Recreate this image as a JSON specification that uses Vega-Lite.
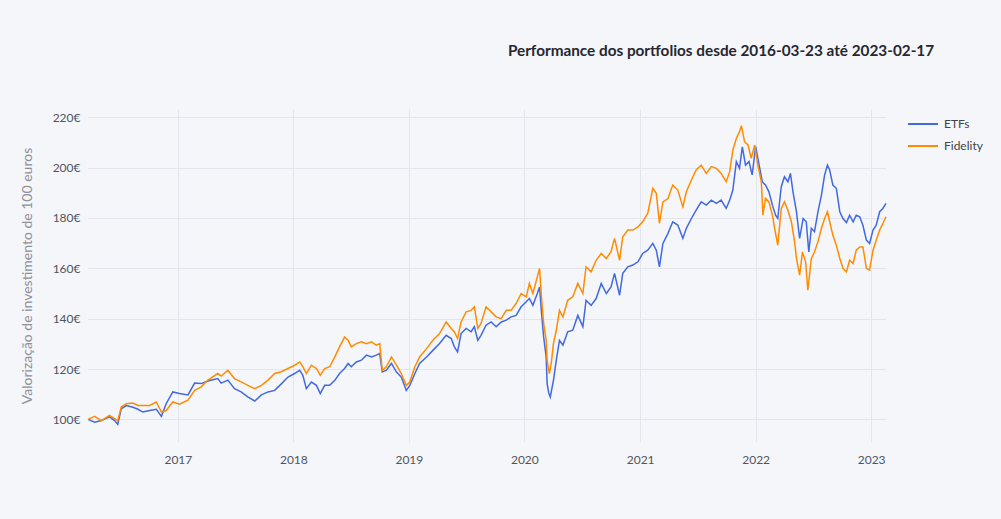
{
  "$schema": "https://vega.github.io/schema/vega-lite/v6.json",
  "width": 798,
  "height": 333,
  "autosize": "none",
  "padding": {"left": 88, "top": 109, "right": 115, "bottom": 77},
  "background": "#f5f6fa",
  "config": {
    "font": "Lato",
    "view": {"stroke": null, "fill": "#f5f6fa"}
  },
  "title": {
    "text": "Performance dos portfolios desde 2016-03-23 até 2023-02-17",
    "anchor": "middle",
    "dx": 234,
    "offset": 49,
    "fontSize": 15.3,
    "fontWeight": "bold",
    "color": "#262730",
    "font": "Lato"
  },
  "data": {
    "values": [
      {"date": "2016-03-23", "portfolio": "ETFs", "value": 100},
      {"date": "2016-04-13", "portfolio": "ETFs", "value": 98.9},
      {"date": "2016-05-04", "portfolio": "ETFs", "value": 99.5},
      {"date": "2016-05-30", "portfolio": "ETFs", "value": 101},
      {"date": "2016-06-15", "portfolio": "ETFs", "value": 99.5},
      {"date": "2016-06-25", "portfolio": "ETFs", "value": 98},
      {"date": "2016-07-06", "portfolio": "ETFs", "value": 104.2},
      {"date": "2016-07-22", "portfolio": "ETFs", "value": 105.5},
      {"date": "2016-08-12", "portfolio": "ETFs", "value": 104.8},
      {"date": "2016-08-28", "portfolio": "ETFs", "value": 104},
      {"date": "2016-09-12", "portfolio": "ETFs", "value": 102.9},
      {"date": "2016-10-04", "portfolio": "ETFs", "value": 103.5},
      {"date": "2016-10-25", "portfolio": "ETFs", "value": 104},
      {"date": "2016-11-10", "portfolio": "ETFs", "value": 101.2},
      {"date": "2016-11-25", "portfolio": "ETFs", "value": 106.2},
      {"date": "2016-12-16", "portfolio": "ETFs", "value": 110.9},
      {"date": "2017-01-06", "portfolio": "ETFs", "value": 110.3},
      {"date": "2017-02-02", "portfolio": "ETFs", "value": 109.7},
      {"date": "2017-02-23", "portfolio": "ETFs", "value": 114.4},
      {"date": "2017-03-16", "portfolio": "ETFs", "value": 114.2},
      {"date": "2017-04-06", "portfolio": "ETFs", "value": 115.2},
      {"date": "2017-05-07", "portfolio": "ETFs", "value": 116.2},
      {"date": "2017-05-18", "portfolio": "ETFs", "value": 114.4},
      {"date": "2017-06-08", "portfolio": "ETFs", "value": 115.6},
      {"date": "2017-06-29", "portfolio": "ETFs", "value": 112.2},
      {"date": "2017-07-20", "portfolio": "ETFs", "value": 110.9},
      {"date": "2017-08-10", "portfolio": "ETFs", "value": 108.9},
      {"date": "2017-09-01", "portfolio": "ETFs", "value": 107.3},
      {"date": "2017-09-22", "portfolio": "ETFs", "value": 109.7},
      {"date": "2017-10-13", "portfolio": "ETFs", "value": 110.9},
      {"date": "2017-11-03", "portfolio": "ETFs", "value": 111.5},
      {"date": "2017-11-24", "portfolio": "ETFs", "value": 114.1},
      {"date": "2017-12-15", "portfolio": "ETFs", "value": 116.8},
      {"date": "2018-01-05", "portfolio": "ETFs", "value": 118.2},
      {"date": "2018-01-21", "portfolio": "ETFs", "value": 119.5},
      {"date": "2018-01-31", "portfolio": "ETFs", "value": 117.5},
      {"date": "2018-02-11", "portfolio": "ETFs", "value": 112.2},
      {"date": "2018-02-27", "portfolio": "ETFs", "value": 114.8},
      {"date": "2018-03-15", "portfolio": "ETFs", "value": 113.5},
      {"date": "2018-03-27", "portfolio": "ETFs", "value": 110.2},
      {"date": "2018-04-10", "portfolio": "ETFs", "value": 113.5},
      {"date": "2018-04-26", "portfolio": "ETFs", "value": 113.5},
      {"date": "2018-05-12", "portfolio": "ETFs", "value": 115.5},
      {"date": "2018-05-27", "portfolio": "ETFs", "value": 118.2},
      {"date": "2018-06-12", "portfolio": "ETFs", "value": 120.2},
      {"date": "2018-06-23", "portfolio": "ETFs", "value": 122.2},
      {"date": "2018-07-03", "portfolio": "ETFs", "value": 120.9},
      {"date": "2018-07-19", "portfolio": "ETFs", "value": 122.8},
      {"date": "2018-08-04", "portfolio": "ETFs", "value": 123.5},
      {"date": "2018-08-20", "portfolio": "ETFs", "value": 125.5},
      {"date": "2018-09-05", "portfolio": "ETFs", "value": 124.8},
      {"date": "2018-09-20", "portfolio": "ETFs", "value": 125.5},
      {"date": "2018-10-01", "portfolio": "ETFs", "value": 126.1},
      {"date": "2018-10-09", "portfolio": "ETFs", "value": 118.8},
      {"date": "2018-10-22", "portfolio": "ETFs", "value": 119.5},
      {"date": "2018-11-07", "portfolio": "ETFs", "value": 122.2},
      {"date": "2018-11-23", "portfolio": "ETFs", "value": 118.8},
      {"date": "2018-12-08", "portfolio": "ETFs", "value": 116.8},
      {"date": "2018-12-24", "portfolio": "ETFs", "value": 111.5},
      {"date": "2019-01-04", "portfolio": "ETFs", "value": 113.5},
      {"date": "2019-01-20", "portfolio": "ETFs", "value": 118.2},
      {"date": "2019-02-04", "portfolio": "ETFs", "value": 122.2},
      {"date": "2019-02-26", "portfolio": "ETFs", "value": 124.8},
      {"date": "2019-03-18", "portfolio": "ETFs", "value": 127.4},
      {"date": "2019-04-08", "portfolio": "ETFs", "value": 130.1},
      {"date": "2019-04-29", "portfolio": "ETFs", "value": 133.4},
      {"date": "2019-05-15", "portfolio": "ETFs", "value": 132.1},
      {"date": "2019-05-25", "portfolio": "ETFs", "value": 128.8},
      {"date": "2019-06-04", "portfolio": "ETFs", "value": 126.8},
      {"date": "2019-06-15", "portfolio": "ETFs", "value": 134.1},
      {"date": "2019-07-01", "portfolio": "ETFs", "value": 136.1},
      {"date": "2019-07-17", "portfolio": "ETFs", "value": 134.8},
      {"date": "2019-07-27", "portfolio": "ETFs", "value": 136.8},
      {"date": "2019-08-07", "portfolio": "ETFs", "value": 131.4},
      {"date": "2019-08-17", "portfolio": "ETFs", "value": 133.4},
      {"date": "2019-09-02", "portfolio": "ETFs", "value": 137.4},
      {"date": "2019-09-18", "portfolio": "ETFs", "value": 138.7},
      {"date": "2019-10-04", "portfolio": "ETFs", "value": 136.8},
      {"date": "2019-10-20", "portfolio": "ETFs", "value": 138.7},
      {"date": "2019-11-05", "portfolio": "ETFs", "value": 139.4},
      {"date": "2019-11-20", "portfolio": "ETFs", "value": 140.7},
      {"date": "2019-12-06", "portfolio": "ETFs", "value": 141.3},
      {"date": "2019-12-22", "portfolio": "ETFs", "value": 144.7},
      {"date": "2020-01-07", "portfolio": "ETFs", "value": 146.7},
      {"date": "2020-01-17", "portfolio": "ETFs", "value": 148},
      {"date": "2020-01-28", "portfolio": "ETFs", "value": 145.3},
      {"date": "2020-02-11", "portfolio": "ETFs", "value": 150},
      {"date": "2020-02-18", "portfolio": "ETFs", "value": 152.6},
      {"date": "2020-02-25", "portfolio": "ETFs", "value": 141.3},
      {"date": "2020-03-02", "portfolio": "ETFs", "value": 132.7},
      {"date": "2020-03-10", "portfolio": "ETFs", "value": 124.8},
      {"date": "2020-03-13", "portfolio": "ETFs", "value": 114.2},
      {"date": "2020-03-18", "portfolio": "ETFs", "value": 110.5},
      {"date": "2020-03-23", "portfolio": "ETFs", "value": 108.9},
      {"date": "2020-04-02", "portfolio": "ETFs", "value": 115.5},
      {"date": "2020-04-11", "portfolio": "ETFs", "value": 123.5},
      {"date": "2020-04-21", "portfolio": "ETFs", "value": 131.4},
      {"date": "2020-05-02", "portfolio": "ETFs", "value": 129.5},
      {"date": "2020-05-17", "portfolio": "ETFs", "value": 134.8},
      {"date": "2020-06-02", "portfolio": "ETFs", "value": 135.4},
      {"date": "2020-06-18", "portfolio": "ETFs", "value": 141.3},
      {"date": "2020-07-04", "portfolio": "ETFs", "value": 136.8},
      {"date": "2020-07-14", "portfolio": "ETFs", "value": 147.3},
      {"date": "2020-07-30", "portfolio": "ETFs", "value": 145.3},
      {"date": "2020-08-15", "portfolio": "ETFs", "value": 148},
      {"date": "2020-08-31", "portfolio": "ETFs", "value": 154},
      {"date": "2020-09-16", "portfolio": "ETFs", "value": 150},
      {"date": "2020-10-01", "portfolio": "ETFs", "value": 152.6},
      {"date": "2020-10-12", "portfolio": "ETFs", "value": 158},
      {"date": "2020-10-28", "portfolio": "ETFs", "value": 149.3},
      {"date": "2020-11-07", "portfolio": "ETFs", "value": 158},
      {"date": "2020-11-23", "portfolio": "ETFs", "value": 160.6},
      {"date": "2020-12-09", "portfolio": "ETFs", "value": 161.3},
      {"date": "2020-12-25", "portfolio": "ETFs", "value": 162.6},
      {"date": "2021-01-09", "portfolio": "ETFs", "value": 165.9},
      {"date": "2021-01-25", "portfolio": "ETFs", "value": 167.2},
      {"date": "2021-02-10", "portfolio": "ETFs", "value": 169.9},
      {"date": "2021-02-21", "portfolio": "ETFs", "value": 167.2},
      {"date": "2021-03-03", "portfolio": "ETFs", "value": 160.6},
      {"date": "2021-03-14", "portfolio": "ETFs", "value": 169.9},
      {"date": "2021-03-30", "portfolio": "ETFs", "value": 173.9},
      {"date": "2021-04-14", "portfolio": "ETFs", "value": 178.5},
      {"date": "2021-04-30", "portfolio": "ETFs", "value": 177.2},
      {"date": "2021-05-16", "portfolio": "ETFs", "value": 171.9},
      {"date": "2021-05-27", "portfolio": "ETFs", "value": 175.9},
      {"date": "2021-06-12", "portfolio": "ETFs", "value": 179.8},
      {"date": "2021-06-27", "portfolio": "ETFs", "value": 183.1},
      {"date": "2021-07-13", "portfolio": "ETFs", "value": 186.4},
      {"date": "2021-07-29", "portfolio": "ETFs", "value": 185.1},
      {"date": "2021-08-14", "portfolio": "ETFs", "value": 187.1},
      {"date": "2021-08-30", "portfolio": "ETFs", "value": 185.8},
      {"date": "2021-09-14", "portfolio": "ETFs", "value": 187.1},
      {"date": "2021-09-30", "portfolio": "ETFs", "value": 183.8},
      {"date": "2021-10-11", "portfolio": "ETFs", "value": 187.1},
      {"date": "2021-10-21", "portfolio": "ETFs", "value": 191.1},
      {"date": "2021-11-01", "portfolio": "ETFs", "value": 202.4},
      {"date": "2021-11-11", "portfolio": "ETFs", "value": 199.7},
      {"date": "2021-11-20", "portfolio": "ETFs", "value": 208.3},
      {"date": "2021-11-30", "portfolio": "ETFs", "value": 201},
      {"date": "2021-12-11", "portfolio": "ETFs", "value": 202.4},
      {"date": "2021-12-21", "portfolio": "ETFs", "value": 197.1},
      {"date": "2022-01-01", "portfolio": "ETFs", "value": 208.3},
      {"date": "2022-01-11", "portfolio": "ETFs", "value": 201.7},
      {"date": "2022-01-22", "portfolio": "ETFs", "value": 194.4},
      {"date": "2022-02-01", "portfolio": "ETFs", "value": 193.1},
      {"date": "2022-02-12", "portfolio": "ETFs", "value": 190.4},
      {"date": "2022-02-23", "portfolio": "ETFs", "value": 185.1},
      {"date": "2022-03-05", "portfolio": "ETFs", "value": 181.1},
      {"date": "2022-03-12", "portfolio": "ETFs", "value": 179.8},
      {"date": "2022-03-23", "portfolio": "ETFs", "value": 192.4},
      {"date": "2022-04-02", "portfolio": "ETFs", "value": 196.4},
      {"date": "2022-04-13", "portfolio": "ETFs", "value": 194.4},
      {"date": "2022-04-21", "portfolio": "ETFs", "value": 197.7},
      {"date": "2022-04-29", "portfolio": "ETFs", "value": 190.4},
      {"date": "2022-05-10", "portfolio": "ETFs", "value": 182.5},
      {"date": "2022-05-20", "portfolio": "ETFs", "value": 171.9},
      {"date": "2022-05-31", "portfolio": "ETFs", "value": 179.8},
      {"date": "2022-06-10", "portfolio": "ETFs", "value": 178.5},
      {"date": "2022-06-18", "portfolio": "ETFs", "value": 166.5},
      {"date": "2022-06-26", "portfolio": "ETFs", "value": 175.9},
      {"date": "2022-07-06", "portfolio": "ETFs", "value": 174.6},
      {"date": "2022-07-17", "portfolio": "ETFs", "value": 182.5},
      {"date": "2022-07-28", "portfolio": "ETFs", "value": 189.1},
      {"date": "2022-08-07", "portfolio": "ETFs", "value": 197.1},
      {"date": "2022-08-16", "portfolio": "ETFs", "value": 201},
      {"date": "2022-08-23", "portfolio": "ETFs", "value": 199.1},
      {"date": "2022-09-02", "portfolio": "ETFs", "value": 193.1},
      {"date": "2022-09-13", "portfolio": "ETFs", "value": 191.8},
      {"date": "2022-09-24", "portfolio": "ETFs", "value": 182.5},
      {"date": "2022-10-04", "portfolio": "ETFs", "value": 179.8},
      {"date": "2022-10-15", "portfolio": "ETFs", "value": 178.2},
      {"date": "2022-10-25", "portfolio": "ETFs", "value": 181.1},
      {"date": "2022-11-05", "portfolio": "ETFs", "value": 178.5},
      {"date": "2022-11-15", "portfolio": "ETFs", "value": 181.1},
      {"date": "2022-11-26", "portfolio": "ETFs", "value": 180.5},
      {"date": "2022-12-06", "portfolio": "ETFs", "value": 177.1},
      {"date": "2022-12-17", "portfolio": "ETFs", "value": 171.2},
      {"date": "2022-12-27", "portfolio": "ETFs", "value": 169.9},
      {"date": "2023-01-07", "portfolio": "ETFs", "value": 175.2},
      {"date": "2023-01-17", "portfolio": "ETFs", "value": 177.1},
      {"date": "2023-01-28", "portfolio": "ETFs", "value": 182.5},
      {"date": "2023-02-07", "portfolio": "ETFs", "value": 183.8},
      {"date": "2023-02-17", "portfolio": "ETFs", "value": 185.8},
      {"date": "2016-03-23", "portfolio": "Fidelity", "value": 100},
      {"date": "2016-04-13", "portfolio": "Fidelity", "value": 101.2},
      {"date": "2016-05-04", "portfolio": "Fidelity", "value": 99.5},
      {"date": "2016-05-30", "portfolio": "Fidelity", "value": 101.6},
      {"date": "2016-06-15", "portfolio": "Fidelity", "value": 100.3},
      {"date": "2016-06-25", "portfolio": "Fidelity", "value": 99.5},
      {"date": "2016-07-06", "portfolio": "Fidelity", "value": 104.9},
      {"date": "2016-07-22", "portfolio": "Fidelity", "value": 106.2},
      {"date": "2016-08-12", "portfolio": "Fidelity", "value": 106.5},
      {"date": "2016-08-28", "portfolio": "Fidelity", "value": 105.5},
      {"date": "2016-09-12", "portfolio": "Fidelity", "value": 105.5},
      {"date": "2016-10-04", "portfolio": "Fidelity", "value": 105.5},
      {"date": "2016-10-25", "portfolio": "Fidelity", "value": 106.9},
      {"date": "2016-11-10", "portfolio": "Fidelity", "value": 102.9},
      {"date": "2016-11-25", "portfolio": "Fidelity", "value": 103.5},
      {"date": "2016-12-16", "portfolio": "Fidelity", "value": 106.9},
      {"date": "2017-01-06", "portfolio": "Fidelity", "value": 106},
      {"date": "2017-02-02", "portfolio": "Fidelity", "value": 107.6},
      {"date": "2017-02-23", "portfolio": "Fidelity", "value": 111.5},
      {"date": "2017-03-16", "portfolio": "Fidelity", "value": 112.9},
      {"date": "2017-04-06", "portfolio": "Fidelity", "value": 115.6},
      {"date": "2017-05-07", "portfolio": "Fidelity", "value": 118.2},
      {"date": "2017-05-18", "portfolio": "Fidelity", "value": 117.2},
      {"date": "2017-06-08", "portfolio": "Fidelity", "value": 119.5},
      {"date": "2017-06-29", "portfolio": "Fidelity", "value": 116.2},
      {"date": "2017-07-20", "portfolio": "Fidelity", "value": 114.9},
      {"date": "2017-08-10", "portfolio": "Fidelity", "value": 113.5},
      {"date": "2017-09-01", "portfolio": "Fidelity", "value": 112.2},
      {"date": "2017-09-22", "portfolio": "Fidelity", "value": 113.5},
      {"date": "2017-10-13", "portfolio": "Fidelity", "value": 115.6},
      {"date": "2017-11-03", "portfolio": "Fidelity", "value": 118.2},
      {"date": "2017-11-24", "portfolio": "Fidelity", "value": 118.9},
      {"date": "2017-12-15", "portfolio": "Fidelity", "value": 120.2},
      {"date": "2018-01-05", "portfolio": "Fidelity", "value": 121.5},
      {"date": "2018-01-21", "portfolio": "Fidelity", "value": 122.8},
      {"date": "2018-01-31", "portfolio": "Fidelity", "value": 120.9},
      {"date": "2018-02-11", "portfolio": "Fidelity", "value": 118.2},
      {"date": "2018-02-27", "portfolio": "Fidelity", "value": 121.5},
      {"date": "2018-03-15", "portfolio": "Fidelity", "value": 120.2},
      {"date": "2018-03-27", "portfolio": "Fidelity", "value": 117.5},
      {"date": "2018-04-10", "portfolio": "Fidelity", "value": 120.2},
      {"date": "2018-04-26", "portfolio": "Fidelity", "value": 120.9},
      {"date": "2018-05-12", "portfolio": "Fidelity", "value": 124.8},
      {"date": "2018-05-27", "portfolio": "Fidelity", "value": 128.8},
      {"date": "2018-06-12", "portfolio": "Fidelity", "value": 132.7},
      {"date": "2018-06-23", "portfolio": "Fidelity", "value": 131.4},
      {"date": "2018-07-03", "portfolio": "Fidelity", "value": 128.8},
      {"date": "2018-07-19", "portfolio": "Fidelity", "value": 130.1},
      {"date": "2018-08-04", "portfolio": "Fidelity", "value": 130.8},
      {"date": "2018-08-20", "portfolio": "Fidelity", "value": 130.1},
      {"date": "2018-09-05", "portfolio": "Fidelity", "value": 130.8},
      {"date": "2018-09-20", "portfolio": "Fidelity", "value": 129.5},
      {"date": "2018-10-01", "portfolio": "Fidelity", "value": 130.1},
      {"date": "2018-10-09", "portfolio": "Fidelity", "value": 119.5},
      {"date": "2018-10-22", "portfolio": "Fidelity", "value": 120.9},
      {"date": "2018-11-07", "portfolio": "Fidelity", "value": 124.8},
      {"date": "2018-11-23", "portfolio": "Fidelity", "value": 121.5},
      {"date": "2018-12-08", "portfolio": "Fidelity", "value": 118.2},
      {"date": "2018-12-24", "portfolio": "Fidelity", "value": 113.5},
      {"date": "2019-01-04", "portfolio": "Fidelity", "value": 114.8},
      {"date": "2019-01-20", "portfolio": "Fidelity", "value": 120.9},
      {"date": "2019-02-04", "portfolio": "Fidelity", "value": 124.8},
      {"date": "2019-02-26", "portfolio": "Fidelity", "value": 128.1},
      {"date": "2019-03-18", "portfolio": "Fidelity", "value": 131.4},
      {"date": "2019-04-08", "portfolio": "Fidelity", "value": 134.1},
      {"date": "2019-04-29", "portfolio": "Fidelity", "value": 138.7},
      {"date": "2019-05-15", "portfolio": "Fidelity", "value": 136.1},
      {"date": "2019-05-25", "portfolio": "Fidelity", "value": 134.7},
      {"date": "2019-06-04", "portfolio": "Fidelity", "value": 132.1},
      {"date": "2019-06-15", "portfolio": "Fidelity", "value": 138.7},
      {"date": "2019-07-01", "portfolio": "Fidelity", "value": 142.7},
      {"date": "2019-07-17", "portfolio": "Fidelity", "value": 143.3},
      {"date": "2019-07-27", "portfolio": "Fidelity", "value": 144.7},
      {"date": "2019-08-07", "portfolio": "Fidelity", "value": 136.1},
      {"date": "2019-08-17", "portfolio": "Fidelity", "value": 138.1},
      {"date": "2019-09-02", "portfolio": "Fidelity", "value": 144.7},
      {"date": "2019-09-18", "portfolio": "Fidelity", "value": 142.7},
      {"date": "2019-10-04", "portfolio": "Fidelity", "value": 140.7},
      {"date": "2019-10-20", "portfolio": "Fidelity", "value": 140},
      {"date": "2019-11-05", "portfolio": "Fidelity", "value": 143.3},
      {"date": "2019-11-20", "portfolio": "Fidelity", "value": 143.3},
      {"date": "2019-12-06", "portfolio": "Fidelity", "value": 146},
      {"date": "2019-12-22", "portfolio": "Fidelity", "value": 150},
      {"date": "2020-01-07", "portfolio": "Fidelity", "value": 148.7},
      {"date": "2020-01-17", "portfolio": "Fidelity", "value": 154},
      {"date": "2020-01-28", "portfolio": "Fidelity", "value": 150},
      {"date": "2020-02-11", "portfolio": "Fidelity", "value": 156.6},
      {"date": "2020-02-18", "portfolio": "Fidelity", "value": 160},
      {"date": "2020-02-25", "portfolio": "Fidelity", "value": 147.3},
      {"date": "2020-03-02", "portfolio": "Fidelity", "value": 138.1},
      {"date": "2020-03-10", "portfolio": "Fidelity", "value": 131.4},
      {"date": "2020-03-13", "portfolio": "Fidelity", "value": 123.5},
      {"date": "2020-03-20", "portfolio": "Fidelity", "value": 118.2},
      {"date": "2020-03-26", "portfolio": "Fidelity", "value": 122.2},
      {"date": "2020-04-02", "portfolio": "Fidelity", "value": 130.1},
      {"date": "2020-04-11", "portfolio": "Fidelity", "value": 135.4},
      {"date": "2020-04-21", "portfolio": "Fidelity", "value": 143.3},
      {"date": "2020-05-02", "portfolio": "Fidelity", "value": 140.7},
      {"date": "2020-05-17", "portfolio": "Fidelity", "value": 147.3},
      {"date": "2020-06-02", "portfolio": "Fidelity", "value": 148.7},
      {"date": "2020-06-18", "portfolio": "Fidelity", "value": 154},
      {"date": "2020-07-04", "portfolio": "Fidelity", "value": 150},
      {"date": "2020-07-14", "portfolio": "Fidelity", "value": 160.6},
      {"date": "2020-07-30", "portfolio": "Fidelity", "value": 158.6},
      {"date": "2020-08-15", "portfolio": "Fidelity", "value": 163.2},
      {"date": "2020-08-31", "portfolio": "Fidelity", "value": 165.9},
      {"date": "2020-09-16", "portfolio": "Fidelity", "value": 163.9},
      {"date": "2020-10-01", "portfolio": "Fidelity", "value": 166.6},
      {"date": "2020-10-12", "portfolio": "Fidelity", "value": 171.9},
      {"date": "2020-10-28", "portfolio": "Fidelity", "value": 163.2},
      {"date": "2020-11-07", "portfolio": "Fidelity", "value": 172.5},
      {"date": "2020-11-23", "portfolio": "Fidelity", "value": 175.2},
      {"date": "2020-12-09", "portfolio": "Fidelity", "value": 175.2},
      {"date": "2020-12-25", "portfolio": "Fidelity", "value": 176.5},
      {"date": "2021-01-09", "portfolio": "Fidelity", "value": 178.5},
      {"date": "2021-01-25", "portfolio": "Fidelity", "value": 181.8},
      {"date": "2021-02-10", "portfolio": "Fidelity", "value": 191.8},
      {"date": "2021-02-21", "portfolio": "Fidelity", "value": 189.8},
      {"date": "2021-03-03", "portfolio": "Fidelity", "value": 177.9},
      {"date": "2021-03-14", "portfolio": "Fidelity", "value": 186.4},
      {"date": "2021-03-30", "portfolio": "Fidelity", "value": 187.7},
      {"date": "2021-04-14", "portfolio": "Fidelity", "value": 193.1},
      {"date": "2021-04-30", "portfolio": "Fidelity", "value": 191.1},
      {"date": "2021-05-16", "portfolio": "Fidelity", "value": 184.4},
      {"date": "2021-05-27", "portfolio": "Fidelity", "value": 190.4},
      {"date": "2021-06-12", "portfolio": "Fidelity", "value": 195.1},
      {"date": "2021-06-27", "portfolio": "Fidelity", "value": 199.1},
      {"date": "2021-07-13", "portfolio": "Fidelity", "value": 201},
      {"date": "2021-07-29", "portfolio": "Fidelity", "value": 197.7},
      {"date": "2021-08-14", "portfolio": "Fidelity", "value": 200.4},
      {"date": "2021-08-30", "portfolio": "Fidelity", "value": 199.7},
      {"date": "2021-09-14", "portfolio": "Fidelity", "value": 197.7},
      {"date": "2021-09-30", "portfolio": "Fidelity", "value": 194.4},
      {"date": "2021-10-11", "portfolio": "Fidelity", "value": 198.4},
      {"date": "2021-10-21", "portfolio": "Fidelity", "value": 207},
      {"date": "2021-11-01", "portfolio": "Fidelity", "value": 211.6},
      {"date": "2021-11-11", "portfolio": "Fidelity", "value": 214.3},
      {"date": "2021-11-17", "portfolio": "Fidelity", "value": 216.7},
      {"date": "2021-11-27", "portfolio": "Fidelity", "value": 210.3},
      {"date": "2021-12-08", "portfolio": "Fidelity", "value": 209},
      {"date": "2021-12-18", "portfolio": "Fidelity", "value": 203.7},
      {"date": "2021-12-29", "portfolio": "Fidelity", "value": 209},
      {"date": "2022-01-08", "portfolio": "Fidelity", "value": 201},
      {"date": "2022-01-19", "portfolio": "Fidelity", "value": 194.4},
      {"date": "2022-01-24", "portfolio": "Fidelity", "value": 181.1},
      {"date": "2022-02-01", "portfolio": "Fidelity", "value": 187.8},
      {"date": "2022-02-12", "portfolio": "Fidelity", "value": 186.4},
      {"date": "2022-02-23", "portfolio": "Fidelity", "value": 181.1},
      {"date": "2022-03-02", "portfolio": "Fidelity", "value": 175.9},
      {"date": "2022-03-12", "portfolio": "Fidelity", "value": 169.2},
      {"date": "2022-03-23", "portfolio": "Fidelity", "value": 183.8},
      {"date": "2022-04-02", "portfolio": "Fidelity", "value": 186.4},
      {"date": "2022-04-13", "portfolio": "Fidelity", "value": 183.1},
      {"date": "2022-04-24", "portfolio": "Fidelity", "value": 178.5},
      {"date": "2022-05-04", "portfolio": "Fidelity", "value": 170.6},
      {"date": "2022-05-10", "portfolio": "Fidelity", "value": 163.9},
      {"date": "2022-05-20", "portfolio": "Fidelity", "value": 157.3},
      {"date": "2022-05-29", "portfolio": "Fidelity", "value": 166.5},
      {"date": "2022-06-08", "portfolio": "Fidelity", "value": 162.6},
      {"date": "2022-06-15", "portfolio": "Fidelity", "value": 151.3},
      {"date": "2022-06-26", "portfolio": "Fidelity", "value": 163.9},
      {"date": "2022-07-06", "portfolio": "Fidelity", "value": 166.5},
      {"date": "2022-07-17", "portfolio": "Fidelity", "value": 170.6},
      {"date": "2022-07-28", "portfolio": "Fidelity", "value": 175.9},
      {"date": "2022-08-07", "portfolio": "Fidelity", "value": 179.8},
      {"date": "2022-08-16", "portfolio": "Fidelity", "value": 182.5},
      {"date": "2022-08-23", "portfolio": "Fidelity", "value": 178.5},
      {"date": "2022-09-02", "portfolio": "Fidelity", "value": 173.2},
      {"date": "2022-09-13", "portfolio": "Fidelity", "value": 169.2},
      {"date": "2022-09-24", "portfolio": "Fidelity", "value": 163.9},
      {"date": "2022-10-04", "portfolio": "Fidelity", "value": 160},
      {"date": "2022-10-15", "portfolio": "Fidelity", "value": 158.6},
      {"date": "2022-10-25", "portfolio": "Fidelity", "value": 163.2},
      {"date": "2022-11-05", "portfolio": "Fidelity", "value": 161.9},
      {"date": "2022-11-15", "portfolio": "Fidelity", "value": 167.2},
      {"date": "2022-11-26", "portfolio": "Fidelity", "value": 168.5},
      {"date": "2022-12-06", "portfolio": "Fidelity", "value": 168.5},
      {"date": "2022-12-17", "portfolio": "Fidelity", "value": 160},
      {"date": "2022-12-27", "portfolio": "Fidelity", "value": 159.3},
      {"date": "2023-01-07", "portfolio": "Fidelity", "value": 167.2},
      {"date": "2023-01-17", "portfolio": "Fidelity", "value": 171.2},
      {"date": "2023-01-28", "portfolio": "Fidelity", "value": 175.2},
      {"date": "2023-02-07", "portfolio": "Fidelity", "value": 177.8},
      {"date": "2023-02-17", "portfolio": "Fidelity", "value": 180.5}
    ]
  },
  "mark": {"type": "line", "strokeWidth": 1.5},
  "encoding": {
    "x": {
      "field": "date",
      "type": "temporal",
      "scale": {
        "type": "utc",
        "domain": [
          {"year": 2016, "month": 3, "date": 23, "utc": true},
          {"year": 2023, "month": 2, "date": 17, "utc": true}
        ]
      },
      "axis": {
        "title": null,
        "format": "%Y",
        "tickCount": {"interval": "year", "step": 1},
        "ticks": false,
        "domain": false,
        "grid": true,
        "gridColor": "#e2e5eb",
        "gridWidth": 1,
        "labelColor": "#505560",
        "labelFontSize": 12,
        "labelPadding": 12,
        "labelFont": "Lato"
      }
    },
    "y": {
      "field": "value",
      "type": "quantitative",
      "scale": {"domain": [91, 223.3], "nice": false, "zero": false},
      "axis": {
        "title": "Valorização de investimento de 100 euros",
        "values": [100, 120, 140, 160, 180, 200, 220],
        "labelExpr": "datum.value + '€'",
        "ticks": false,
        "domain": false,
        "grid": true,
        "gridColor": "#e2e5eb",
        "gridWidth": 1,
        "labelColor": "#505560",
        "labelFontSize": 12,
        "labelPadding": 8,
        "labelFont": "Lato",
        "titleColor": "#8c9099",
        "titleFontSize": 14,
        "titleFontWeight": "normal",
        "titleFont": "Lato",
        "titlePadding": 18
      }
    },
    "color": {
      "field": "portfolio",
      "type": "nominal",
      "scale": {"domain": ["ETFs", "Fidelity"], "range": ["#4169E1", "#FF8C00"]},
      "legend": {
        "title": null,
        "orient": "none",
        "legendX": 819,
        "legendY": -1,
        "symbolType": "stroke",
        "symbolSize": 900,
        "symbolStrokeWidth": 2,
        "labelFontSize": 12,
        "labelColor": "#444",
        "labelFont": "Lato",
        "labelOffset": 5,
        "rowPadding": -10,
        "padding": 0
      }
    }
  }
}
